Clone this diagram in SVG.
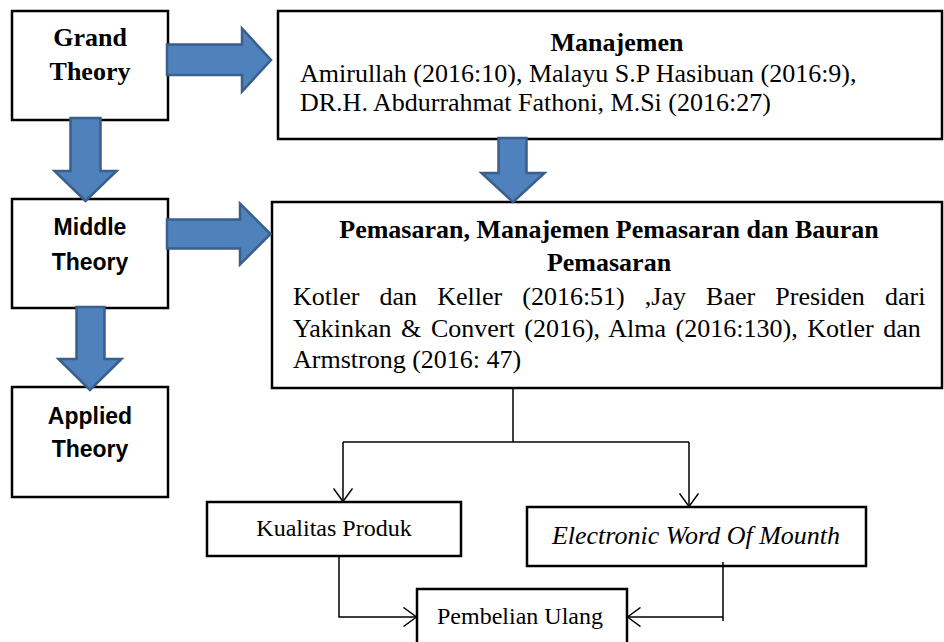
<svg xmlns="http://www.w3.org/2000/svg" width="944" height="642" viewBox="0 0 944 642">
<style>
.box{fill:#fff;stroke:#000;stroke-width:2.5}
.big{fill:#4F81BD;stroke:#3A5F8B;stroke-width:2.5;stroke-linejoin:miter}
.con{fill:none;stroke:#000;stroke-width:1.5}
.serif{font-family:"Liberation Serif","Times New Roman",serif;fill:#000}
.sans{font-family:"Liberation Sans",Arial,sans-serif;font-weight:bold;font-size:23px;fill:#000}
.t26b{font-size:26px;font-weight:bold}
.t26{font-size:26px}
.t24{font-size:24px}
</style>
<defs>
<marker id="open" viewBox="0 0 14 20" refX="14" refY="10" markerWidth="14" markerHeight="20" markerUnits="userSpaceOnUse" orient="auto">
<path d="M0.5,0.5 L13.5,10 L0.5,19.5" fill="none" stroke="#000" stroke-width="1.5"/>
</marker>
</defs>
<rect width="944" height="642" fill="#fff"/>

<g id="grand">
<rect class="box" x="12" y="11" width="156" height="109"/>
<text class="serif t26b" x="90" y="46" text-anchor="middle">Grand</text>
<text class="serif t26b" x="90" y="80" text-anchor="middle">Theory</text>
</g>

<g id="middle">
<rect class="box" x="12" y="199" width="156" height="109"/>
<text class="sans" x="90" y="235" text-anchor="middle">Middle</text>
<text class="sans" x="90" y="270" text-anchor="middle">Theory</text>
</g>

<g id="applied">
<rect class="box" x="12" y="387" width="156" height="110"/>
<text class="sans" x="90" y="424" text-anchor="middle">Applied</text>
<text class="sans" x="90" y="457" text-anchor="middle">Theory</text>
</g>

<g id="manajemen">
<rect class="box" x="278" y="11" width="664" height="128"/>
<text class="serif t26b" x="617" y="51" text-anchor="middle">Manajemen</text>
<text class="serif t26" x="300" y="82">Amirullah (2016:10), Malayu S.P Hasibuan (2016:9),</text>
<text class="serif t26" x="300" y="111">DR.H. Abdurrahmat Fathoni, M.Si (2016:27)</text>
</g>

<g id="pemasaran">
<rect class="box" x="272" y="202" width="670" height="186"/>
<text class="serif t26b" x="609" y="238" text-anchor="middle">Pemasaran, Manajemen Pemasaran dan Bauran</text>
<text class="serif t26b" x="609" y="271" text-anchor="middle">Pemasaran</text>
<text class="serif t26" x="293" y="305" word-spacing="13.6">Kotler dan Keller (2016:51) ,Jay Baer Presiden dari</text>
<text class="serif t26" x="293" y="337" word-spacing="3.1">Yakinkan &amp; Convert (2016), Alma (2016:130), Kotler dan</text>
<text class="serif t26" x="293" y="368">Armstrong (2016: 47)</text>
</g>

<g id="kualitas">
<rect class="box" x="207" y="502" width="254" height="54"/>
<text class="serif t24" x="334" y="536" text-anchor="middle">Kualitas Produk</text>
</g>

<g id="ewom">
<rect class="box" x="527" y="507" width="339" height="59"/>
<text class="serif t26" x="696" y="544" text-anchor="middle" font-style="italic">Electronic Word Of Mounth</text>
</g>

<g id="pembelian">
<rect class="box" x="417" y="589" width="210" height="70"/>
<text class="serif t24" x="520" y="624" text-anchor="middle">Pembelian Ulang</text>
</g>

<g id="connectors">
<polygon class="big" points="167,44.5 242,44.5 242,28.5 271,60 242,91.5 242,75 167,75"/>
<polygon class="big" points="70.5,118 100.5,118 100.5,171 116.5,171 85.5,201 54.5,171 70.5,171"/>
<polygon class="big" points="167,219.5 240,219.5 240,203.5 270.5,234 240,264.5 240,248.5 167,248.5"/>
<polygon class="big" points="76.5,307 104.5,307 104.5,359 121.5,359 90,390 58.5,359 76.5,359"/>
<polygon class="big" points="498.5,138 526.5,138 526.5,173 544.5,173 513,202 481.5,173 498.5,173"/>

<path class="con" d="M513,388 V442"/>
<path class="con" d="M343,442 H689"/>
<path class="con" d="M343,442 V502" marker-end="url(#open)"/>
<path class="con" d="M689,442 V507" marker-end="url(#open)"/>
<path class="con" d="M339,556 V617 H417" marker-end="url(#open)"/>
<path class="con" d="M723,562 V621"/>
<path class="con" d="M723,617 H627" marker-end="url(#open)"/>
</g>
</svg>
